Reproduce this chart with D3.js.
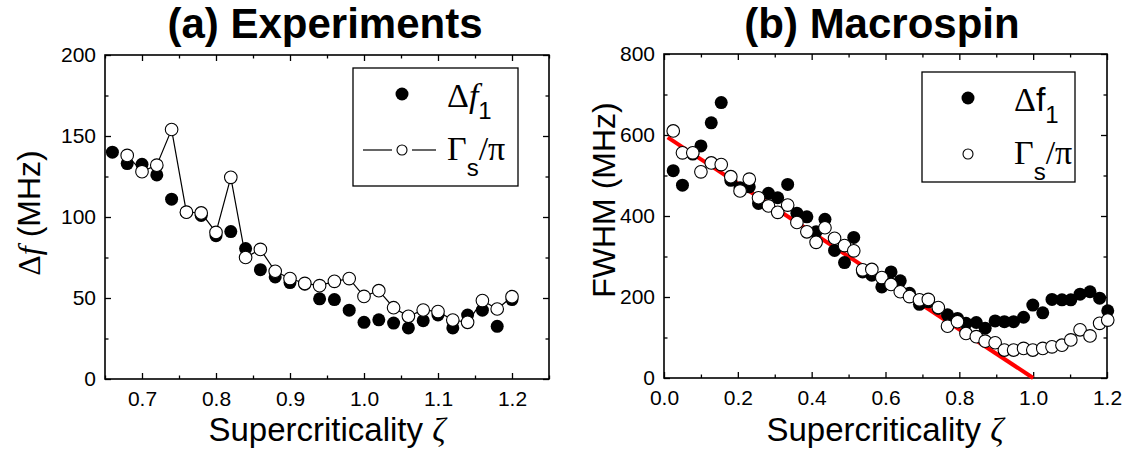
<!DOCTYPE html>
<html><head><meta charset="utf-8">
<script src="https://cdn.jsdelivr.net/npm/d3@7/dist/d3.min.js"></script>
<style>body{margin:0;background:#fff}svg{display:block}</style>
</head><body><svg id="c" width="1131" height="452"></svg>
<script>
// ---------- (a) Experiments ----------
const expX = [0.66,0.68,0.70,0.72,0.74,0.76,0.78,0.80,0.82,0.84,0.86,0.88,0.90,0.92,0.94,0.96,0.98,1.00,1.02,1.04,1.06,1.08,1.10,1.12,1.14,1.16,1.18,1.20];
const expDf = [140,133,132.5,126,111,103,101,88.5,91,80.5,67.5,63,59.5,58.5,49.5,49,42.5,35,36.5,34.5,31.5,36,39.5,31.5,39.5,42.5,32.5,49];
const expGammaX = [0.68,0.70,0.72,0.74,0.76,0.78,0.80,0.82,0.84,0.86,0.88,0.90,0.92,0.94,0.96,0.98,1.00,1.02,1.04,1.06,1.08,1.10,1.12,1.14,1.16,1.18,1.20];
const expGamma = [138,128,132,154,103,102.5,90.5,124.5,75,80,66.5,62,59,57.6,60.3,62,51,54.5,44,38.7,42.6,41.6,36.4,35,48.4,43.2,50.8];
const expXTicks = [0.7,0.8,0.9,1.0,1.1,1.2];
const expXMinor = [0.65,0.75,0.85,0.95,1.05,1.15,1.25];
const expYTicks = [0,50,100,150,200];
const expYMinor = [25,75,125,175];

// ---------- (b) Macrospin ----------
const macroX = [0.025,0.05,0.078,0.10,0.128,0.155,0.181,0.206,0.231,0.256,0.283,0.308,0.335,0.36,0.387,0.412,0.436,0.462,0.489,0.514,0.538,0.563,0.59,0.615,0.64,0.665,0.692,0.716,0.743,0.768,0.795,0.818,0.846,0.87,0.897,0.922,0.947,0.974,0.999,1.026,1.051,1.078,1.102,1.127,1.154,1.18,1.202];
const macroDf = [512,476,553,573,630,680,488,470,472,431,456,445,478,407,398,361,392,315,285,347,262,254,225,262,240,209,182,188,172,156,147,135,137,123,141,139,139,150,180,161,194,193,193,207,213,197,166];
const macroGamma = [610,556,556,509,531,527,497,462,491,445,425,409,427,384,361,335,371,345,327,314,267,268,248,231,213,201,193,194,174,128,139,110,102,91,87,69,69,73,69,73,77,81,94,119,104,135,143];
const fitX = [0.01,1.0];
const fitY = [594,0];
const macroXTicks = [0,0.2,0.4,0.6,0.8,1.0,1.2];
const macroXMinor = [0.1,0.3,0.5,0.7,0.9,1.1];
const macroYTicks = [0,200,400,600,800];
const macroYMinor = [100,300,500,700];

const svg = d3.select("#c");
const SANS = "'Liberation Sans', Arial, sans-serif";
const SERIF = "'Liberation Serif', 'Times New Roman', serif";

function panel(o) {
  const x = d3.scaleLinear().domain(o.xDomain).range(o.xRange);
  const y = d3.scaleLinear().domain(o.yDomain).range(o.yRange);
  const g = svg.append("g");
  const [x0, x1] = o.xRange, [y0, y1] = o.yRange;
  const MAJ = 6, MIN = 3.5;
  function ax(gen, tr, vals, size, labels, pad) {
    const a = g.append("g").attr("transform", tr)
      .call(gen.tickValues(vals).tickSizeInner(-size).tickSizeOuter(0).tickPadding(pad)
        .tickFormat(labels ? labels : ""));
    a.select(".domain").remove();
    a.selectAll(".tick line").attr("stroke", "#000").attr("stroke-width", 1.3);
    if (labels) a.selectAll("text").attr("font-family", SANS).attr("font-size", 21).attr("fill", "#000");
    else a.selectAll("text").remove();
    return a;
  }
  ax(d3.axisBottom(x), `translate(0,${y0})`, o.xTicks, MAJ, o.xFmt, 12);
  ax(d3.axisBottom(x), `translate(0,${y0})`, o.xMinor, MIN, null, 12);
  ax(d3.axisTop(x), `translate(0,${y1})`, o.xTicks, MAJ, null, 3);
  ax(d3.axisTop(x), `translate(0,${y1})`, o.xMinor, MIN, null, 3);
  ax(d3.axisLeft(y), `translate(${x0},0)`, o.yTicks, MAJ, d3.format("d"), 9);
  ax(d3.axisLeft(y), `translate(${x0},0)`, o.yMinor, MIN, null, 9);
  ax(d3.axisRight(y), `translate(${x1},0)`, o.yTicks, MAJ, null, 3);
  ax(d3.axisRight(y), `translate(${x1},0)`, o.yMinor, MIN, null, 3);
  g.append("rect").attr("x", x0).attr("y", y1).attr("width", x1 - x0).attr("height", y0 - y1)
    .attr("fill", "none").attr("stroke", "#000").attr("stroke-width", 1.6);
  return {x, y, g};
}

// ----- Panel (a)
const A = panel({xDomain:[0.65,1.25], xRange:[105,549], yDomain:[0,200], yRange:[379,55],
  xTicks:expXTicks, xMinor:expXMinor, yTicks:expYTicks, yMinor:expYMinor, xFmt:d3.format(".1f")});
A.g.append("path").datum(expGammaX.map((v,i)=>[v,expGamma[i]]))
  .attr("d", d3.line().x(d=>A.x(d[0])).y(d=>A.y(d[1])))
  .attr("fill","none").attr("stroke","#000").attr("stroke-width",1.2);
A.g.selectAll("circle.f").data(expX).enter().append("circle")
  .attr("cx", d=>A.x(d)).attr("cy", (d,i)=>A.y(expDf[i])).attr("r", 6.5).attr("fill", "#000");
A.g.selectAll("circle.o").data(expGammaX).enter().append("circle")
  .attr("cx", d=>A.x(d)).attr("cy", (d,i)=>A.y(expGamma[i])).attr("r", 6.3)
  .attr("fill", "#fff").attr("stroke", "#000").attr("stroke-width", 1.1);

// ----- Panel (b)
const B = panel({xDomain:[0,1.2], xRange:[664,1107], yDomain:[0,800], yRange:[378,54],
  xTicks:macroXTicks, xMinor:macroXMinor, yTicks:macroYTicks, yMinor:macroYMinor, xFmt:d3.format(".1f")});
B.g.append("path").datum(fitX.map((v,i)=>[v,fitY[i]]))
  .attr("d", d3.line().x(d=>B.x(d[0])).y(d=>B.y(d[1])))
  .attr("fill","none").attr("stroke","#f00").attr("stroke-width",4);
B.g.selectAll("circle.f").data(macroX).enter().append("circle")
  .attr("cx", d=>B.x(d)).attr("cy", (d,i)=>B.y(macroDf[i])).attr("r", 6.5).attr("fill", "#000");
B.g.selectAll("circle.o").data(macroX).enter().append("circle")
  .attr("cx", d=>B.x(d)).attr("cy", (d,i)=>B.y(macroGamma[i])).attr("r", 6.3)
  .attr("fill", "#fff").attr("stroke", "#000").attr("stroke-width", 1.1);

// ----- Titles
svg.append("text").attr("x", 325).attr("y", 38).attr("text-anchor","middle")
  .attr("font-family", SANS).attr("font-weight","bold").attr("font-size", 42).text("(a) Experiments");
svg.append("text").attr("x", 882).attr("y", 38).attr("text-anchor","middle")
  .attr("font-family", SANS).attr("font-weight","bold").attr("font-size", 42).text("(b) Macrospin");

// ----- X axis titles
function xTitle(cx) {
  const t = svg.append("text").attr("x", cx).attr("y", 441).attr("text-anchor","middle")
    .attr("font-family", SANS).attr("font-size", 33);
  t.append("tspan").text("Supercriticality ");
  t.append("tspan").attr("font-family", SERIF).attr("font-style","italic").text("ζ");
}
xTitle(327); xTitle(885);

// ----- Y axis titles
const ya = svg.append("text").attr("transform","translate(40,213) rotate(-90)").attr("text-anchor","middle")
  .attr("font-family", SANS).attr("font-size", 32);
ya.append("tspan").attr("font-family", SERIF).text("Δ");
ya.append("tspan").attr("font-family", SERIF).attr("font-style","italic").text("f");
ya.append("tspan").text(" (MHz)");
svg.append("text").attr("transform","translate(615,200) rotate(-90)").attr("text-anchor","middle")
  .attr("font-family", SANS).attr("font-size", 32).text("FWHM (MHz)");

// ----- Legends
function legend(bx, by, bw, bh, cx, tx, italicF, withLine) {
  const g = svg.append("g");
  g.append("rect").attr("x", bx).attr("y", by).attr("width", bw).attr("height", bh)
    .attr("fill","#fff").attr("stroke","#000").attr("stroke-width",1.3);
  g.append("circle").attr("cx", cx).attr("cy", by + 26).attr("r", 6.5).attr("fill","#000");
  if (withLine) {
    g.append("line").attr("x1", bx + 10).attr("x2", cx - 10).attr("y1", by + 82).attr("y2", by + 82).attr("stroke","#000").attr("stroke-width",1.2);
    g.append("line").attr("x1", cx + 10).attr("x2", cx + 34).attr("y1", by + 82).attr("y2", by + 82).attr("stroke","#000").attr("stroke-width",1.2);
  }
  g.append("circle").attr("cx", cx).attr("cy", by + 82).attr("r", 5).attr("fill","#fff").attr("stroke","#000").attr("stroke-width",1.1);
  const t1 = g.append("text").attr("x", tx).attr("y", by + 39).attr("font-size", 34).attr("font-family", SERIF);
  t1.append("tspan").text("Δ");
  if (italicF) t1.append("tspan").attr("font-style","italic").text("f");
  else t1.append("tspan").attr("font-family", SANS).text("f");
  t1.append("tspan").attr("font-family", SANS).attr("font-size", 24).attr("dy", 12).text("1");
  const t2 = g.append("text").attr("x", tx).attr("y", by + 92).attr("font-size", 34).attr("font-family", SERIF);
  t2.append("tspan").text("Γ");
  t2.append("tspan").attr("font-family", SANS).attr("font-size", 24).attr("dy", 16).text("s");
  t2.append("tspan").attr("dy", -16).text("/π");
}
legend(353, 68, 165, 118, 402, 447, true, true);
legend(922, 72, 153, 110, 968, 1014, false, false);
</script></body></html>
